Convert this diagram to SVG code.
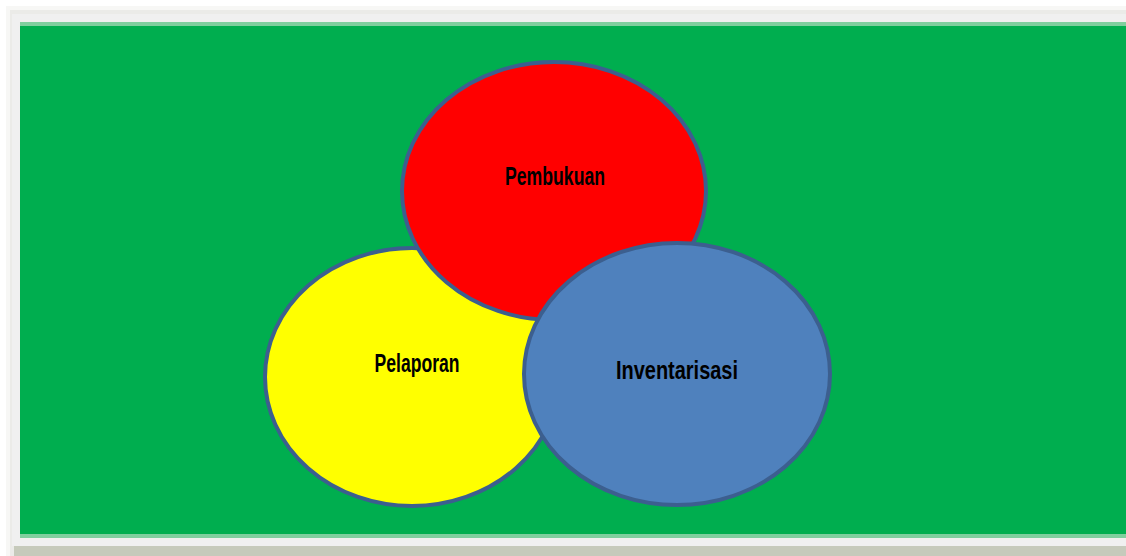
<svg xmlns="http://www.w3.org/2000/svg" width="1126" height="556" viewBox="0 0 1126 556">
<style>
.c{stroke:#3c5f8f;stroke-width:4}
.t{font-family:"Liberation Sans",Arial,sans-serif;font-size:26px;font-weight:bold;fill:#000;text-anchor:middle}
</style>
<rect x="0" y="0" width="1126" height="556" fill="#ffffff"/>
<rect x="6" y="6" width="1120" height="550" fill="#f7f7f5"/>
<rect x="10" y="10" width="1116" height="546" fill="#ebebe8"/>
<rect x="12" y="14" width="1114" height="532" fill="#f0f0f0"/>
<rect x="14" y="546" width="1112" height="10" fill="#c6cabb"/>
<rect x="20" y="22" width="1106" height="516" fill="#7fcf9e"/>
<rect x="20" y="26" width="1106" height="508" fill="#00ae4f"/>
<g id="pelaporan">
<ellipse class="c" cx="412" cy="377" rx="147" ry="129" fill="#ffff00"/>
</g>
<g id="pembukuan">
<ellipse class="c" cx="554" cy="191" rx="152" ry="129" fill="#ff0000"/>
<text class="t" x="555" y="185" textLength="100" lengthAdjust="spacingAndGlyphs">Pembukuan</text>
</g>
<g id="inventarisasi">
<ellipse class="c" cx="677" cy="374" rx="153" ry="131" fill="#4f81bd"/>
<text class="t" x="677" y="379" textLength="122" lengthAdjust="spacingAndGlyphs">Inventarisasi</text>
</g>
<g id="pelaporan-label">
<text class="t" x="417" y="372" textLength="85" lengthAdjust="spacingAndGlyphs">Pelaporan</text>
</g>
<g id="connectors"></g>
</svg>
